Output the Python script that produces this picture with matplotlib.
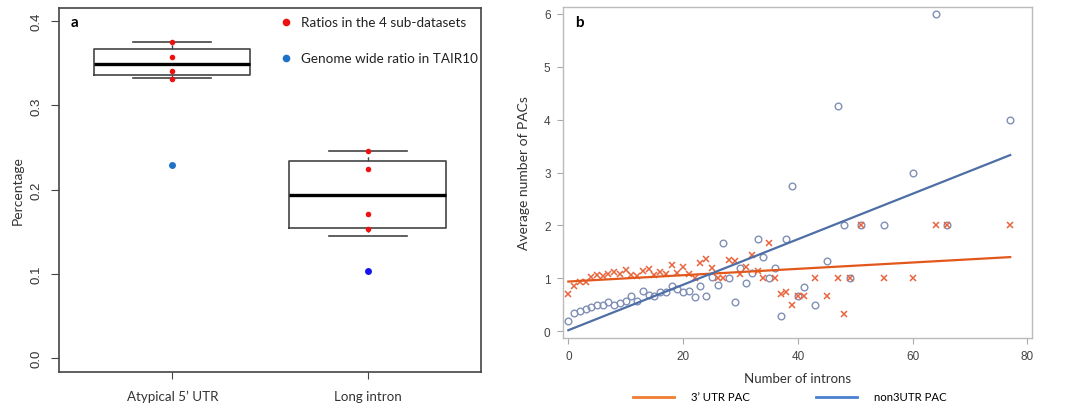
import matplotlib
matplotlib.use('Agg')
import matplotlib.pyplot as plt
from matplotlib.lines import Line2D

# ---------------- Panel a data ----------------
categories = ["Atypical 5\u2019 UTR", "Long intron"]
sub_ratios = [[0.375, 0.358, 0.341, 0.3315], [0.246, 0.224, 0.171, 0.153]]
genome_ratio = [0.229, 0.103]
box_med = [0.3497, 0.194]
box_q1 = [0.336, 0.155]
box_q3 = [0.3675, 0.234]
box_whislo = [0.332, 0.145]
box_whishi = [0.375, 0.2463]
yticks_a = [0.0, 0.1, 0.2, 0.3, 0.4]

# ---------------- Panel b data ----------------
introns_3utr = [0, 1, 2, 3, 4, 5, 6, 7, 8, 9, 10, 11, 12, 13, 14, 15, 16, 17, 18, 19,
                20, 21, 22, 23, 24, 25, 26, 27, 28, 29, 30, 31, 32, 33, 34, 35, 36, 37, 38, 39,
                40, 41, 43, 45, 47, 48, 49, 51, 55, 60, 64, 66, 77]
pacs_3utr = [0.71, 0.85, 0.94, 0.93, 1.02, 1.06, 1.04, 1.08, 1.12, 1.09, 1.15, 1.07, 1.04, 1.13, 1.17, 1.06, 1.12, 1.08, 1.26, 1.10,
             1.22, 1.08, 1.00, 1.30, 1.37, 1.19, 1.00, 1.00, 1.35, 1.32, 1.08, 1.22, 1.44, 1.13, 1.00, 1.66, 1.00, 0.71, 0.74, 0.50,
             0.66, 0.66, 1.00, 0.66, 1.00, 0.33, 1.00, 2.00, 1.00, 1.00, 2.00, 2.00, 2.00]
introns_non3 = [0, 1, 2, 3, 4, 5, 6, 7, 8, 9, 10, 11, 12, 13, 14, 15, 16, 17, 18, 19,
                20, 21, 22, 23, 24, 25, 26, 27, 28, 29, 30, 31, 32, 33, 34, 35, 36, 37, 38, 39,
                40, 41, 43, 45, 47, 48, 49, 51, 55, 60, 64, 66, 77]
pacs_non3 = [0.20, 0.35, 0.39, 0.42, 0.45, 0.50, 0.50, 0.55, 0.50, 0.54, 0.58, 0.67, 0.58, 0.77, 0.69, 0.66, 0.75, 0.74, 0.85, 0.79,
             0.75, 0.77, 0.64, 0.85, 0.66, 1.03, 0.88, 1.67, 1.00, 0.56, 1.19, 0.91, 1.10, 1.75, 1.40, 1.00, 1.20, 0.28, 1.75, 2.74,
             0.66, 0.84, 0.50, 1.33, 4.25, 2.00, 1.00, 2.00, 2.00, 3.00, 6.00, 2.00, 4.00]
fit_range = [0, 77]
fit_3utr = [0.94, 0.0060]    # intercept, slope
fit_non3 = [0.02, 0.0430]    # intercept, slope
series_names = ["3\u2019 UTR PAC", "non3UTR PAC"]

TXT = ['Lato', 'DejaVu Sans']
fig = plt.figure(figsize=(10.68, 4.10), dpi=100)

# ================= Panel a =================
axa = fig.add_axes([0.0552, 0.0902, 0.3951, 0.888])
stats = []
for i in range(2):
    stats.append(dict(med=box_med[i], q1=box_q1[i], q3=box_q3[i],
                      whislo=box_whislo[i], whishi=box_whishi[i], fliers=[]))
axa.bxp(stats, positions=[1, 2], widths=0.8, showfliers=False,
        boxprops=dict(color='#444444', linewidth=1.2),
        medianprops=dict(color='black', linewidth=2.4),
        whiskerprops=dict(color='#444444', linewidth=1.0, linestyle=(0, (3, 3))),
        capprops=dict(color='#444444', linewidth=1.2),
        capwidths=0.4)
for i in range(2):
    axa.plot([i + 1] * len(sub_ratios[i]), sub_ratios[i], 'o', color='#ee1111',
             markersize=4, markeredgewidth=0, zorder=5)
axa.plot([1], [genome_ratio[0]], 'o', color='#1f72c6', markersize=5, markeredgewidth=0, zorder=5)
axa.plot([2], [genome_ratio[1]], 'o', color='#1515ee', markersize=5, markeredgewidth=0, zorder=5)

axa.set_xlim(0.42, 2.58)
axa.set_ylim(-0.0166, 0.4158)
axa.set_yticks(yticks_a)
axa.set_yticklabels(["%.1f" % v for v in yticks_a], rotation=90, va='center',
                    fontsize=9.5, family=['Liberation Sans'], color='#333333')
axa.set_xticks([1, 2])
axa.set_xticklabels(categories, fontsize=9.6, family=TXT, color='#333333')
axa.tick_params(axis='x', length=5, pad=8, color='#444444')
axa.tick_params(axis='y', length=6, pad=6, color='#444444')
for s in axa.spines.values():
    s.set_color('#444444')
    s.set_linewidth(1.2)
axa.set_ylabel("Percentage", fontsize=10, family=TXT, color='#333333', labelpad=5)
axa.text(0.028, 0.962, "a", transform=axa.transAxes, fontsize=11, fontweight='bold',
         family=TXT, va='center', ha='left')
# legend (manual)
axa.plot([0.538], [0.962], 'o', color='#ee1111', markersize=5.5, markeredgewidth=0,
         transform=axa.transAxes, clip_on=False)
axa.plot([0.538], [0.863], 'o', color='#1f72c6', markersize=5.5, markeredgewidth=0,
         transform=axa.transAxes, clip_on=False)
axa.text(0.573, 0.962, "Ratios in the 4 sub-datasets", transform=axa.transAxes,
         fontsize=9.7, family=TXT, va='center', ha='left', color='#222222')
axa.text(0.573, 0.863, "Genome wide ratio in TAIR10", transform=axa.transAxes,
         fontsize=9.7, family=TXT, va='center', ha='left', color='#222222')

# ================= Panel b =================
axb = fig.add_axes([0.5272, 0.1732, 0.4391, 0.8073])
c_or_pt = '#e8643c'
c_bl_pt = '#8090b6'
c_or_ln = '#e2581c'
c_bl_ln = '#4e6ea6'
axb.plot(introns_non3, pacs_non3, 'o', mfc='none', mec=c_bl_pt, markersize=4.8,
         markeredgewidth=1.0, zorder=3)
axb.plot(introns_3utr, pacs_3utr, 'x', color=c_or_pt, markersize=4.6,
         markeredgewidth=1.1, zorder=4)
xs = fit_range
axb.plot(xs, [fit_3utr[0] + fit_3utr[1] * x for x in xs], color=c_or_ln, linewidth=1.6, zorder=5)
axb.plot(xs, [fit_non3[0] + fit_non3[1] * x for x in xs], color=c_bl_ln, linewidth=1.6, zorder=5)
axb.set_xlim(-0.92, 80.8)
axb.set_ylim(-0.127, 6.13)
axb.set_xticks([0, 20, 40, 60, 80])
axb.set_yticks([0, 1, 2, 3, 4, 5, 6])
for lab in axb.get_xticklabels() + axb.get_yticklabels():
    lab.set_fontsize(8.5)
    lab.set_family(['Liberation Sans'])
    lab.set_color('#444444')
axb.tick_params(length=4, color='#aaaaaa', pad=5)
for s in axb.spines.values():
    s.set_color('#bbbbbb')
    s.set_linewidth(1.0)
axb.set_xlabel("Number of introns", fontsize=9.5, family=TXT, color='#333333', labelpad=7)
axb.set_ylabel("Average number of PACs", fontsize=10, family=TXT, color='#333333', labelpad=10)
axb.text(0.026, 0.955, "b", transform=axb.transAxes, fontsize=11, fontweight='bold',
         family=TXT, va='center', ha='left')

handles = [Line2D([], [], color='#ed7d31', linewidth=2),
           Line2D([], [], color='#4a80cc', linewidth=2)]
fig.legend(handles, series_names, loc='center', bbox_to_anchor=(790 / 1068, 1 - 398 / 410),
           ncol=2, frameon=False, handlelength=3.6, handletextpad=1.5, columnspacing=5.8,
           prop=dict(family=TXT, size=8.2))

fig.savefig('out.png', dpi=100)
